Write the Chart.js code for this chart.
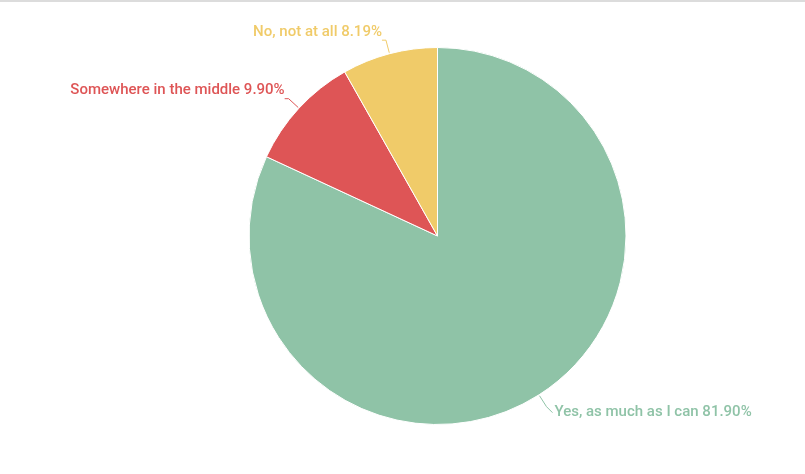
<!DOCTYPE html>
<html>
<head>
<meta charset="utf-8">
<script src="https://cdn.jsdelivr.net/npm/chart.js@4"></script>
<style>
  html, body { margin: 0; padding: 0; background: #fff; }
  #wrap { position: relative; width: 805px; height: 474px; }
  #bar { position: absolute; left: 0; top: 0; width: 805px; height: 2px; background: #dcdcdc; }
</style>
</head>
<body>
<div id="wrap">
  <canvas id="pieCht" width="805" height="474"></canvas>
  <div id="bar"></div>
</div>
<script>
const labels = ['Yes, as much as I can', 'Somewhere in the middle', 'No, not at all'];
const values = [81.90, 9.90, 8.19];
const colors = ['#8fc3a7', '#de5556', '#f0cb69'];

// draws the outside labels with short leader lines
const outLabels = {
    id: 'outLabels',
    afterDatasetsDraw(chart) {
        const ctx = chart.ctx;
        const arcs = chart.getDatasetMeta(0).data;
        ctx.save();
        ctx.font = '500 15px Roboto';
        ctx.textBaseline = 'middle';
        arcs.forEach(function(arc, i) {
            const a = (arc.startAngle + arc.endAngle) / 2;
            const r = arc.outerRadius;
            const cos = Math.cos(a), sin = Math.sin(a);
            const x1 = arc.x + cos * (r + 1), y1 = arc.y + sin * (r + 1);
            const x2 = arc.x + cos * (r + 14), y2 = arc.y + sin * (r + 14);
            const right = cos >= 0;
            const x3 = x2 + (right ? 6 : -4);
            ctx.strokeStyle = colors[i];
            ctx.lineWidth = 1;
            ctx.beginPath();
            ctx.moveTo(x1, y1);
            ctx.lineTo(x2, y2);
            ctx.lineTo(x3, y2 + (right ? 6 : 0));
            ctx.stroke();
            ctx.fillStyle = colors[i];
            ctx.textAlign = right ? 'left' : 'right';
            const ty = right ? y2 + 6 : y2 - 8;
            ctx.fillText(labels[i] + ' ' + values[i].toFixed(2) + '%', x3 + (right ? 2 : 0), ty);
        });
        ctx.restore();
    }
};

var ctx = document.getElementById('pieCht');
var pieChart = new Chart(ctx, {
    type: 'pie',
    data: {
        labels: labels,
        datasets: [{
            data: values,
            backgroundColor: colors,
            borderColor: '#ffffff',
            borderWidth: 1
        }]
    },
    options: {
        responsive: false,
        animation: false,
        layout: { padding: { left: 70, right: 0, top: 47, bottom: 49 } },
        plugins: {
            legend: { display: false },
            tooltip: { enabled: false }
        }
    },
    plugins: [outLabels]
});
</script>
</body>
</html>
